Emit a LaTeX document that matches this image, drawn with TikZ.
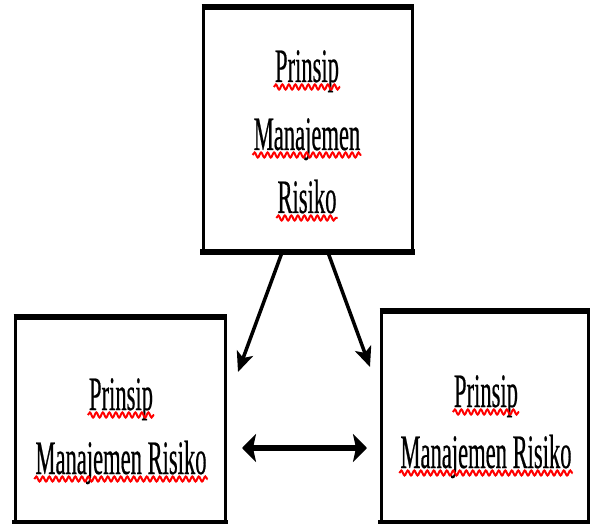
\documentclass[tikz,border=0pt]{standalone}
\usepackage{fontspec}
\setmainfont{Liberation Serif}[FakeStretch=0.47,FakeBold=0.4]
\usetikzlibrary{arrows.meta,decorations.pathmorphing}

\begin{document}
\begin{tikzpicture}[x=1pt, y=-1pt,
    box/.style={draw, line width=3pt, inner sep=0pt},
    word/.style={inner sep=0pt, anchor=base, font=\fontsize{48}{58}\selectfont},
    hline/.style={line width=6pt, shorten <=-1.5pt, shorten >=-1.5pt},
    wave/.style={red, line width=2pt, decorate,
        decoration={snake, segment length=6.5pt, amplitude=2.5pt}},
    slant/.style={line width=3.5pt, -{Stealth[length=20pt,width=17pt,inset=5pt]}},
    both/.style={line width=6pt, {Stealth[length=14pt,width=28pt,inset=3pt]}-{Stealth[length=14pt,width=28pt,inset=3pt]}}]
    \useasboundingbox (0,0) rectangle (590,524);
    % boxes
    \node[box, minimum width=209pt, minimum height=242pt] (0) at (307.5,130) {};
    \node[box, minimum width=210pt, minimum height=202pt] (1) at (120,420) {};
    \node[box, minimum width=207pt, minimum height=208pt] (2) at (484.5,417) {};
    \foreach \n in {0,1,2}
        \draw[hline] (\n.north west) -- (\n.north east)
            (\n.south west) -- (\n.south east);
    % texts
    \node[word] (0a) at (307,82) {Prinsip};
    \node[word] (0b) at (307,150) {Manajemen};
    \node[word] (0c) at (307,213) {Risiko};
    \node[word] (1a) at (121,410) {Prinsip};
    \node[word] (1b) at (121,474) {Manajemen Risiko};
    \node[word] (2a) at (486,407) {Prinsip};
    \node[word] (2b) at (486,468) {Manajemen Risiko};
    \foreach \t in {0a,0b,0c,1a,1b,2a,2b}
        \draw[wave] ([xshift=-1pt,yshift=-5pt]\t.base west) -- ([xshift=1pt,yshift=-5pt]\t.base east);
    % arrows
    \coordinate (a) at (238,372);
    \coordinate (b) at (370,367);
    \coordinate (c) at (242,448);
    \coordinate (d) at (367,448);
    \draw[slant] ([xshift=-25.5pt]0.south) -- (a);
    \draw[slant] ([xshift=20.5pt]0.south) -- (b);
    \draw[both] (c) -- (d);
\end{tikzpicture}
\end{document}
